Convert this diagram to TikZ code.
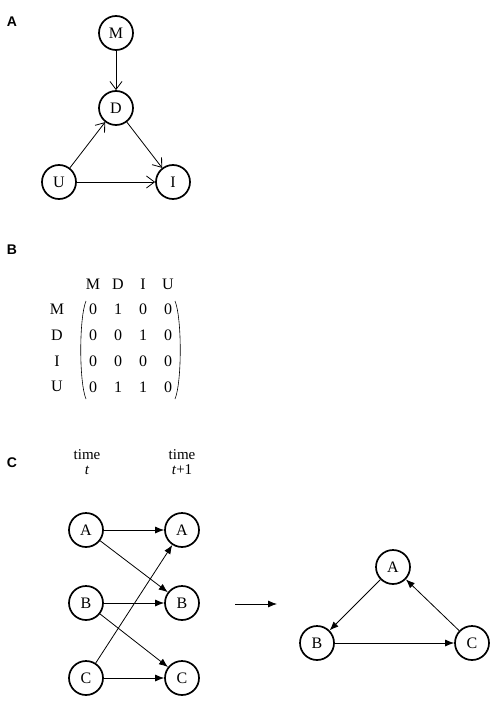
\documentclass[tikz,border=0pt]{standalone}
\usepackage{fontspec}
\setmainfont{Liberation Serif}
\newfontfamily\panelfont{Liberation Sans}
\usetikzlibrary{arrows.meta}

\begin{document}
\begin{tikzpicture}[x=1pt,y=-1pt,font=\fontsize{16}{18}\selectfont,
  vertex/.style={circle,draw,line width=1.7pt,minimum size=34pt,inner sep=0pt},
  panel/.style={font=\panelfont\bfseries\fontsize{14}{14}\selectfont},
  timelabel/.style={inner sep=0pt,font=\fontsize{15}{15}\selectfont},
  openarrow/.style={-{Straight Barb[length=8pt,width=12pt]},line width=0.8pt},
  fillarrow/.style={-{Latex[length=9pt,width=7pt]},line width=0.8pt}]
\useasboundingbox (0,0) rectangle (496,703);

% A: causal graph
\node[panel] (lblA) at (12,22) {A};
\node[vertex] (M) at (116,33) {M};
\node[vertex] (D) at (116,108) {D};
\node[vertex] (U) at (59,182) {U};
\node[vertex] (I) at (173,182) {I};
\draw[openarrow] (M) -- (D);
\draw[openarrow] (U) -- (D);
\draw[openarrow] (D) -- (I);
\draw[openarrow] (U) -- (I);

% B: adjacency matrix
\node[panel] (lblB) at (12,250) {B};
\foreach \n [count=\i] in {M,D,I,U} {
  \node (col\i) at ({68+25*\i},284) {\n};
  \node (row\i) at (57,{284+25.7*\i}) {\n};
}
\foreach \row [count=\i] in {{0,1,0,0},{0,0,1,0},{0,0,0,0},{0,1,1,0}} {
  \foreach \v [count=\j] in \row {
    \node (e\i\j) at ({68+25*\j},{284+25.7*\i}) {\v};
  }
}
\draw[line width=0.6pt] (86,301) .. controls (79,318) and (79,382) .. (86,399);
\draw[line width=0.6pt] (175,301) .. controls (182,318) and (182,382) .. (175,399);

% C: time-unrolled graph and its summary
\node[panel] (lblC) at (12,463) {C};
\node[timelabel,anchor=base] (timeL) at (87,459) {time};
\node[timelabel,anchor=base] (tL) at (87,474) {\textit{t}};
\node[timelabel,anchor=base] (timeR) at (182,459) {time};
\node[timelabel,anchor=base] (tR) at (182,474) {\textit{t}+1};
\foreach \n/\y in {A/530,B/603,C/678} {
  \node[vertex] (L\n) at (86,\y) {\n};
  \node[vertex] (R\n) at (182,\y) {\n};
}
\draw[fillarrow] (LA) -- (RA);
\draw[fillarrow] (LA) -- (RB);
\draw[fillarrow] (LB) -- (RB);
\draw[fillarrow] (LB) -- (RC);
\draw[fillarrow] (LC) -- (RA);
\draw[fillarrow] (LC) -- (RC);

\coordinate (arrS) at (235,604);
\coordinate (arrE) at (277,604);
\draw[fillarrow] (arrS) -- (arrE);

\node[vertex] (TA) at (393,567) {A};
\node[vertex] (TB) at (317,643) {B};
\node[vertex] (TC) at (472,643) {C};
\draw[fillarrow] (TA) -- (TB);
\draw[fillarrow] (TB) -- (TC);
\draw[fillarrow] (TC) -- (TA);
\end{tikzpicture}
\end{document}
